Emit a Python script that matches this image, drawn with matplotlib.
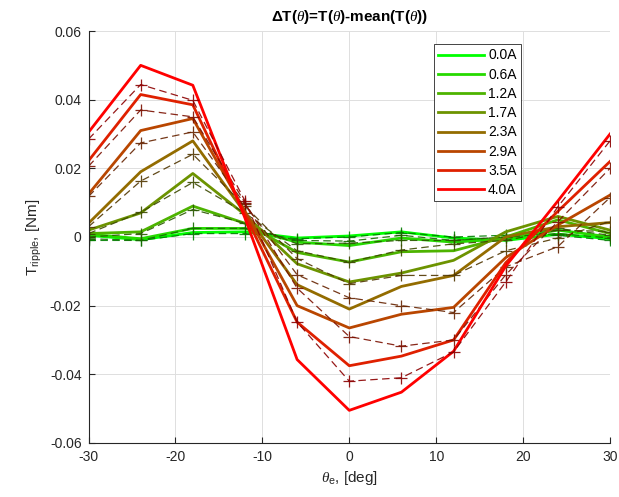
import matplotlib
matplotlib.use("Agg")
import matplotlib.pyplot as plt
from matplotlib.ticker import FuncFormatter

plt.rcParams["font.family"] = ["Liberation Sans", "DejaVu Sans"]
plt.rcParams["mathtext.fontset"] = "custom"
plt.rcParams["mathtext.rm"] = "Liberation Sans"
plt.rcParams["mathtext.it"] = "Liberation Serif:italic"
plt.rcParams["mathtext.bf"] = "Liberation Sans:bold"
plt.rcParams["axes.unicode_minus"] = False

# electrical angle, deg
theta = [-30, -24, -18, -12, -6, 0, 6, 12, 18, 24, 30]

currents = [0.0, 0.6, 1.2, 1.7, 2.3, 2.9, 3.5, 4.0]
labels = ["0.0A", "0.6A", "1.2A", "1.7A", "2.3A", "2.9A", "3.5A", "4.0A"]

# measured torque ripple, Nm (solid)
meas_00 = [0.0005, -0.0008, 0.0013, 0.0015, -0.0003, 0.0003, 0.0015, -0.0003, -0.0010, 0.0008, -0.0005]
meas_06 = [0.0008, -0.0005, 0.0025, 0.0025, -0.0015, -0.0025, -0.0003, -0.0015, -0.0005, 0.0020, 0.0000]
meas_12 = [0.0010, 0.0015, 0.0090, 0.0040, -0.0045, -0.0073, -0.0043, -0.0040, 0.0000, 0.0050, 0.0010]
meas_17 = [0.0020, 0.0070, 0.0185, 0.0065, -0.0078, -0.0131, -0.0105, -0.0068, 0.0015, 0.0060, 0.0020]
meas_23 = [0.0040, 0.0190, 0.0280, 0.0070, -0.0139, -0.0210, -0.0144, -0.0112, 0.0000, 0.0030, 0.0042]
meas_29 = [0.0125, 0.0310, 0.0345, 0.0075, -0.0200, -0.0265, -0.0225, -0.0205, -0.0060, 0.0035, 0.0122]
meas_35 = [0.0222, 0.0415, 0.0385, 0.0065, -0.0248, -0.0375, -0.0347, -0.0300, -0.0075, 0.0075, 0.0220]
meas_40 = [0.0305, 0.0500, 0.0442, 0.0055, -0.0357, -0.0505, -0.0452, -0.0333, -0.0085, 0.0105, 0.0300]

# model torque ripple, Nm (dashed with +)
model_00 = [-0.0010, -0.0010, 0.0010, 0.0010, -0.0005, 0.0000, 0.0013, 0.0000, 0.0005, 0.0005, -0.0010]
model_06 = [-0.0005, -0.0010, 0.0025, 0.0025, -0.0010, -0.0012, 0.0005, -0.0010, 0.0000, 0.0010, -0.0003]
model_12 = [0.0000, 0.0010, 0.0080, 0.0040, -0.0020, -0.0018, -0.0010, -0.0010, 0.0000, 0.0025, 0.0005]
model_17 = [0.0010, 0.0072, 0.0159, 0.0070, -0.0040, -0.0073, -0.0038, -0.0020, -0.0010, 0.0020, 0.0016]
model_23 = [0.0030, 0.0163, 0.0241, 0.0090, -0.0063, -0.0136, -0.0112, -0.0112, -0.0040, -0.0003, 0.0045]
model_29 = [0.0118, 0.0274, 0.0306, 0.0095, -0.0110, -0.0177, -0.0200, -0.0220, -0.0087, -0.0028, 0.0115]
model_35 = [0.0206, 0.0370, 0.0350, 0.0100, -0.0149, -0.0290, -0.0318, -0.0300, -0.0110, 0.0045, 0.0200]
model_40 = [0.0285, 0.0444, 0.0398, 0.0105, -0.0248, -0.0420, -0.0410, -0.0335, -0.0131, 0.0088, 0.0280]

measured = [meas_00, meas_06, meas_12, meas_17, meas_23, meas_29, meas_35, meas_40]
modelled = [model_00, model_06, model_12, model_17, model_23, model_29, model_35, model_40]

fig = plt.figure(figsize=(6.19, 4.97), dpi=100)
ax = fig.add_axes([0.143, 0.1087, 0.8425, 0.8289])

handles = []
for cur, lab, ym, yd in zip(currents, labels, measured, modelled):
    k = cur / 4.0
    col = (k, 1.0 - k, 0.0)
    dark = (0.55 * k, 0.5 * (1.0 - k), 0.0)
    h, = ax.plot(theta, ym, color=col, linewidth=2.0, label=lab)
    ax.plot(theta, yd, color=dark, linewidth=0.9, linestyle=(0, (6, 3.5)),
            marker="+", markersize=8, markeredgewidth=0.9, alpha=0.9)
    handles.append(h)

ax.set_xlim(-30, 30)
ax.set_ylim(-0.06, 0.06)
ax.set_xticks([-30, -20, -10, 0, 10, 20, 30])
ax.set_yticks([-0.06, -0.04, -0.02, 0, 0.02, 0.04, 0.06])
ax.yaxis.set_major_formatter(FuncFormatter(lambda v, p: "%g" % round(v, 4)))
ax.grid(True, color="#dedede", linewidth=0.7)
ax.set_axisbelow(True)
for side in ("top", "right"):
    ax.spines[side].set_visible(False)
for side in ("left", "bottom"):
    ax.spines[side].set_color("#262626")
    ax.spines[side].set_linewidth(0.8)
ax.tick_params(direction="in", length=4, width=0.8, colors="#262626",
               labelsize=10, pad=5)

ax.set_title("ΔT($\\theta$)=T($\\theta$)-mean(T($\\theta$))",
             fontsize=11, fontweight="bold", pad=7)
ax.set_xlabel("$\\theta_{\\rm e}$, [deg]", fontsize=11, color="#262626")
ax.set_ylabel("T$_{\\rm ripple}$, [Nm]", fontsize=11, color="#262626")

leg = ax.legend(handles=handles, loc="upper right", bbox_to_anchor=(0.829, 0.968),
                fontsize=10, handlelength=3.3, handletextpad=0.3, labelspacing=0.38,
                borderpad=0.3, borderaxespad=0, fancybox=False, framealpha=1)
leg.get_frame().set_edgecolor("#262626")
leg.get_frame().set_linewidth(0.6)

fig.savefig("out.png", dpi=100)
